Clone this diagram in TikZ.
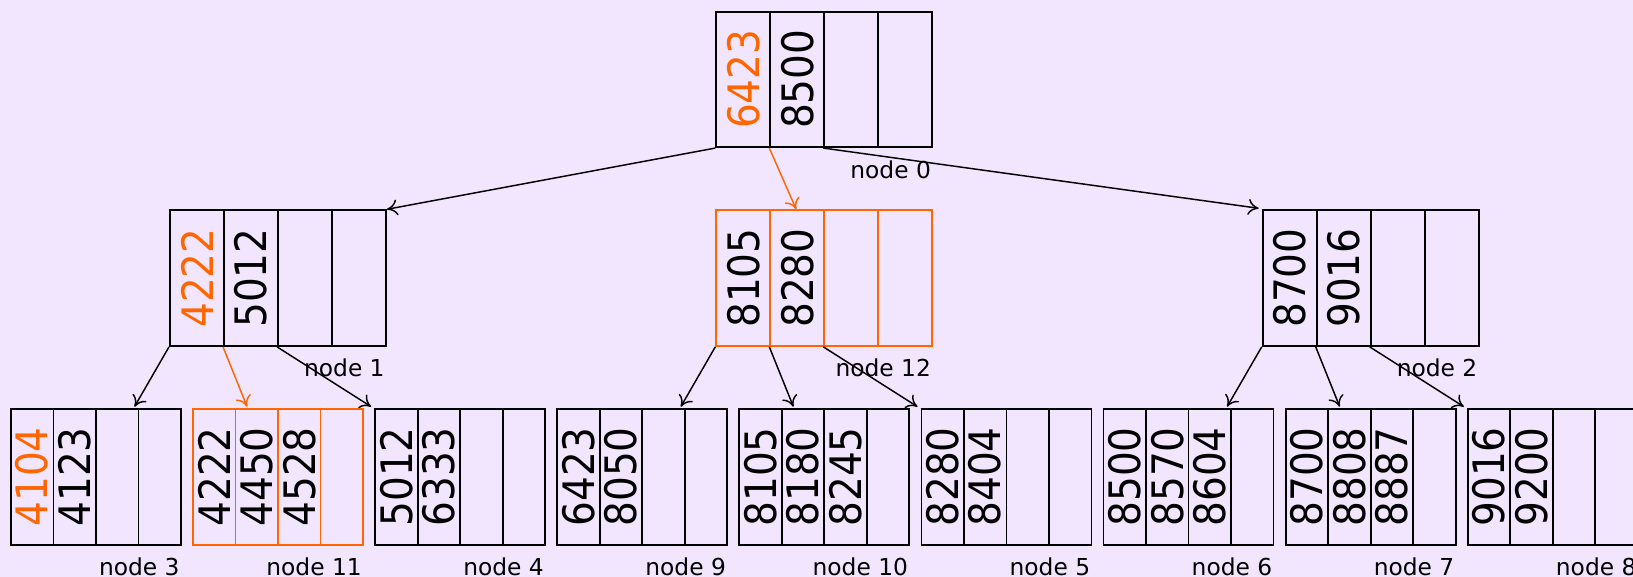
\documentclass[tikz,border=0pt]{standalone}
\usepackage{fontspec}
\setmainfont{DejaVu Sans}
\newfontfamily\numfont{DejaVu Sans Condensed}
\usetikzlibrary{calc,arrows.meta}
\definecolor{bgc}{RGB}{242,230,255}
\definecolor{borange}{RGB}{255,102,0}
\tikzset{
  cell/.style={draw, line width=1.4pt, inner sep=0pt, anchor=north west},
  num/.style={font=\numfont\fontsize{32.5}{32.5}\selectfont, inner sep=0pt, rotate=90},
  lbl/.style={font=\fontsize{17.5}{18}\selectfont, inner sep=0pt, anchor=base east},
  link/.style={line width=1.1pt, -{To[length=8pt,width=12pt]}},
}
% name, x, y, cell width, height, colour, entries
\newcommand\btnode[7]{%
  \foreach \v [count=\i] in {#7}{%
    \node[cell, draw=#6, minimum width=#4*0.75pt, minimum height=#5*0.75pt]
      (#1c\i) at ({#2+(\i-1)*#4},#3) {};
    \node[num] (#1t\i) at (#1c\i.center) {\v};
  }%
}
\begin{document}
\begin{tikzpicture}[x=0.75pt,y=-0.75pt]
\fill[bgc] (0,0) rectangle (1633,577);
\useasboundingbox (0,0) rectangle (1633,577);
% top
\btnode{n0}{715.3}{10.7}{54}{135.5}{black}{{\color{borange}6423},8500,{},{}}
% middle
\btnode{n1}{169}{209.3}{54}{135.7}{black}{{\color{borange}4222},5012,{},{}}
\btnode{n12}{715.3}{209.3}{54}{135.7}{borange}{8105,8280,{},{}}
\btnode{n2}{1261.7}{209.3}{54}{135.7}{black}{8700,9016,{},{}}
% leaves
\btnode{n3}{10}{407.7}{42.5}{136.3}{black}{{\color{borange}4104},4123,{},{}}
\btnode{n11}{192.1}{407.7}{42.5}{136.3}{borange}{4222,4450,4528,{}}
\btnode{n4}{374.2}{407.7}{42.5}{136.3}{black}{5012,6333,{},{}}
\btnode{n9}{556.3}{407.7}{42.5}{136.3}{black}{6423,8050,{},{}}
\btnode{n10}{738.4}{407.7}{42.5}{136.3}{black}{8105,8180,8245,{}}
\btnode{n5}{920.5}{407.7}{42.5}{136.3}{black}{8280,8404,{},{}}
\btnode{n6}{1102.6}{407.7}{42.5}{136.3}{black}{8500,8570,8604,{}}
\btnode{n7}{1284.7}{407.7}{42.5}{136.3}{black}{8700,8808,8887,{}}
\btnode{n8}{1466.8}{407.7}{42.5}{136.3}{black}{9016,9200,{},{}}
% labels
\foreach \n/\t in {n0/node 0,n1/node 1,n12/node 12,n2/node 2,n3/node 3,n11/node 11,n4/node 4,n9/node 9,n10/node 10,n5/node 5,n6/node 6,n7/node 7,n8/node 8}{
  \node[lbl] (\n lbl) at ($(\n c4.south east)+(-2,30)$) {\t};
}
% links from the root
\draw[link] (n0c1.south west) -- (n1c4.north east);
\draw[link, borange] (n0c2.south west) -- ($(n12c2.north)+(-1,0)$);
\draw[link] (n0c3.south west) -- ($(n2c1.north west)+(-3,-1)$);
% links to the leaves
\foreach \p/\a/\b/\c in {n1/n3/n11/n4, n12/n9/n10/n5, n2/n6/n7/n8}{
  \draw[link] (\p c1.south west) -- ($(\a c4.north west)+(-3,-1)$);
  \draw[link] (\p c3.south west) -- ($(\c c1.north west)+(-3,-1)$);
}
\draw[link, borange] (n1c2.south west) -- ($(n11c1.north west)+(55,-1)$);
\draw[link] (n12c2.south west) -- ($(n10c1.north west)+(55,-1)$);
\draw[link] (n2c2.south west) -- ($(n7c1.north west)+(55,-1)$);
\end{tikzpicture}
\end{document}
